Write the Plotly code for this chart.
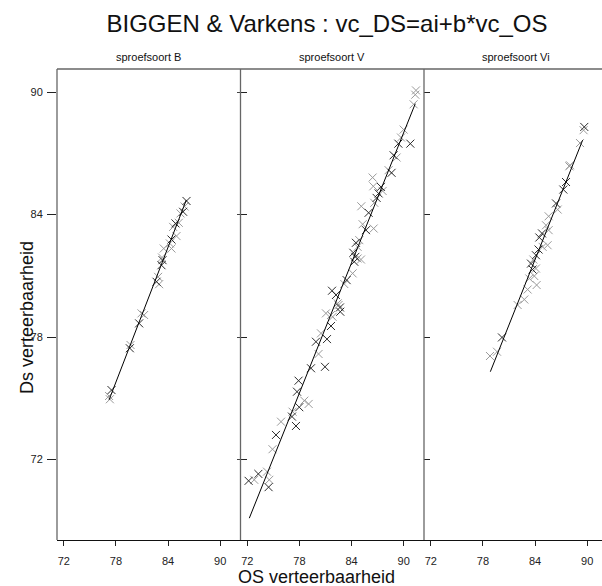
import plotly.graph_objects as go

# ---------------- data ----------------
panel_titles = ["sproefsoort B", "sproefsoort V", "sproefsoort Vi"]
x_ticks = [72, 78, 84, 90]
y_ticks = [72, 78, 84, 90]

# sproefsoort B
b_os = [86.12, 85.9, 85.73, 85.43, 85.23, 84.85, 84.58, 84.97, 84.39, 84.2, 83.5, 84.39, 83.36,
        83.24, 83.3, 82.85, 82.67, 82.97, 80.94, 81.24, 80.67, 79.68, 79.6, 77.49, 77.21, 77.3]
b_ds = [84.67, 84.4, 84.14, 84.06, 83.6, 83.57, 83.4, 82.95, 82.78, 82.59, 82.34, 82.34, 81.77,
        81.52, 81.9, 80.95, 80.71, 80.59, 79.16, 79.08, 78.67, 77.61, 77.45, 75.4, 75.11, 74.95]
b_dier = ["V", "B", "V", "B", "B", "V", "B", "B", "V", "B", "B", "B", "V",
          "V", "B", "B", "V", "B", "B", "B", "V", "B", "V", "V", "B", "B"]

# sproefsoort V
v_os = [91.41, 91.33, 91.14, 90.76, 89.99, 89.69, 89.38, 88.84, 89.18, 88.26, 88.6, 86.42, 86.5,
        87.38, 87.57, 87.11, 86.88, 86.61, 85.12, 85.96, 85.27, 86.54, 85.66, 84.89, 84.5, 84.69,
        84.2, 84.43, 84.69, 85.08, 84.31, 84.12, 83.43, 83.16, 81.75, 82.2, 82.5, 82.66, 81.05,
        81.63, 82.4, 82.7, 81.82, 81.63, 80.48, 81.17, 79.9, 80.2, 80.94, 79.33, 77.9, 77.72,
        78.56, 79.06, 77.98, 77.21, 77.14, 77.6, 75.88, 75.3, 74.9, 74.27, 74.53, 74.45, 73.27,
        72.8, 72.15]
v_ds = [90.09, 89.88, 89.41, 87.48, 88.17, 87.78, 87.48, 86.91, 86.8, 86.18, 86.05, 85.82, 85.39,
        85.36, 85.16, 85.04, 84.82, 84.58, 84.41, 84.09, 83.53, 83.32, 83.24, 82.75, 82.62, 82.42,
        82.13, 81.93, 81.85, 81.8, 81.69, 81.12, 80.79, 80.6, 80.27, 80.06, 79.57, 79.45, 79.16,
        79.08, 79.65, 79.24, 78.99, 78.54, 78.18, 77.9, 77.77, 77.17, 76.54, 76.47, 75.86, 75.32,
        74.88, 74.72, 74.56, 74.34, 74.1, 73.64, 73.85, 73.2, 72.5, 71.4, 71.0, 70.64, 71.29,
        71.0, 70.95]
v_dier = ["B", "B", "B", "V", "B", "B", "V", "V", "B", "B", "V", "B", "B",
          "V", "B", "V", "V", "B", "B", "V", "B", "B", "V", "B", "V", "B",
          "V", "V", "B", "B", "V", "B", "V", "B", "V", "V", "B", "V", "B",
          "B", "B", "V", "B", "V", "B", "V", "V", "B", "V", "V", "V", "V",
          "B", "B", "V", "B", "V", "V", "B", "V", "B", "B", "B", "V", "V",
          "B", "V"]

# sproefsoort Vi
vi_os = [89.66, 89.58, 89.17, 87.94, 88.02, 87.56, 87.25, 86.41, 86.6, 85.56, 85.26, 85.56, 84.8,
         84.49, 85.44, 84.87, 84.4, 84.1, 83.8, 83.53, 84.1, 83.71, 83.34, 83.91, 84.18, 83.14,
         82.76, 81.99, 80.19, 79.62, 78.81]
vi_ds = [88.3, 88.14, 87.51, 86.37, 86.42, 85.6, 85.23, 84.55, 84.25, 83.92, 83.48, 83.24, 83.08,
         82.88, 82.5, 82.42, 82.29, 82.01, 81.8, 81.6, 81.36, 81.31, 80.87, 80.99, 80.55, 80.33,
         79.84, 79.57, 77.98, 77.28, 77.07]
vi_dier = ["V", "B", "B", "B", "B", "V", "V", "V", "B", "B", "B", "B", "V",
           "V", "B", "B", "V", "V", "B", "V", "B", "V", "B", "B", "B", "B",
           "B", "B", "V", "B", "B"]

# fitted lines (vc_DS = ai + b*vc_OS), end points
fit_b_os = [77.21, 86.1]
fit_b_ds = [74.92, 84.72]
fit_v_os = [72.23, 91.33]
fit_v_ds = [69.12, 89.44]
fit_vi_os = [78.85, 89.47]
fit_vi_ds = [76.3, 87.65]

# ---------------- layout geometry ----------------
W, H = 602, 586
L, T, B, R = 57, 69, 46, 0
PW = W - L - R           # plot area width
PX_PER_UNIT = 8.69       # x-scale
panel_w = 183.5
edges_px = [0, panel_w, 2 * panel_w, PW]
dom = [(edges_px[i] / PW, edges_px[i + 1] / PW) for i in range(3)]
x_lo = 72 - 6.8 / PX_PER_UNIT
x_ranges = [[x_lo, x_lo + (edges_px[i + 1] - edges_px[i]) / PX_PER_UNIT] for i in range(3)]
y_range = [68.05, 91.14]

FONT = "Liberation Sans, Arial, sans-serif"
colors = {"B": "#9a9a9a", "V": "#2a2a2a"}

fig = go.Figure()

panels = [(b_os, b_ds, b_dier, fit_b_os, fit_b_ds),
          (v_os, v_ds, v_dier, fit_v_os, fit_v_ds),
          (vi_os, vi_ds, vi_dier, fit_vi_os, fit_vi_ds)]

for i, (xs, ys, grp, fx, fy) in enumerate(panels):
    xa = "x" if i == 0 else f"x{i+1}"
    ya = "y" if i == 0 else f"y{i+1}"
    for g in ["B", "V"]:
        px = [x for x, gg in zip(xs, grp) if gg == g]
        py = [y for y, gg in zip(ys, grp) if gg == g]
        fig.add_trace(go.Scatter(
            x=px, y=py, mode="markers", xaxis=xa, yaxis=ya, showlegend=False,
            marker=dict(symbol="x-thin", size=8, line=dict(width=1, color=colors[g])),
        ))
    fig.add_trace(go.Scatter(x=fx, y=fy, mode="lines", xaxis=xa, yaxis=ya,
                             showlegend=False, line=dict(color="black", width=1)))

# invisible trace for the inner-right ticks of panel 1
fig.add_trace(go.Scatter(x=[None], y=[None], xaxis="x", yaxis="y4", showlegend=False))

layout = dict(
    width=W, height=H,
    margin=dict(l=L, r=R, t=T, b=B, pad=0),
    paper_bgcolor="white", plot_bgcolor="white",
    font=dict(family=FONT, color="#111", size=11),
    title=dict(text="BIGGEN & Varkens : vc_DS=ai+b*vc_OS", x=327 / W, xanchor="center",
               y=1 - 24 / H, yanchor="middle", font=dict(size=24, family=FONT, color="#111")),
)

for i in range(3):
    xk = "xaxis" if i == 0 else f"xaxis{i+1}"
    yk = "yaxis" if i == 0 else f"yaxis{i+1}"
    layout[xk] = dict(domain=list(dom[i]), range=x_ranges[i], anchor="y" if i == 0 else f"y{i+1}",
                      tickvals=x_ticks, ticks="outside", ticklen=5, tickcolor="#222",
                      showline=True, linecolor="#111", linewidth=1.3, showgrid=False,
                      zeroline=False, tickfont=dict(size=11, family=FONT, color="#222"),
                      ticklabelstandoff=6, fixedrange=True)
    ydict = dict(domain=[0, 1], range=y_range, anchor="x" if i == 0 else f"x{i+1}",
                 tickvals=y_ticks, showgrid=False, zeroline=False, showline=False,
                 tickcolor="#222", fixedrange=True)
    if i == 0:
        ydict.update(ticks="outside", ticklen=9, tickfont=dict(size=11, family=FONT, color="#222"),
                     ticklabelstandoff=2)
    else:
        ydict.update(ticks="inside", ticklen=6, showticklabels=False)
    layout[yk] = ydict

layout["yaxis4"] = dict(overlaying="y", side="right", anchor="x", range=y_range, tickvals=y_ticks,
                        ticks="inside", ticklen=4, showticklabels=False, showgrid=False,
                        zeroline=False, showline=False, tickcolor="#444", fixedrange=True)

fig.update_layout(**layout)

# frame lines (panel borders) in paper coordinates
frame_col = "#666"
shapes = [dict(type="line", xref="paper", yref="paper", x0=0, x1=1, y0=1, y1=1,
               line=dict(color=frame_col, width=1.3))]
for e in edges_px[:3]:
    xp = e / PW
    shapes.append(dict(type="line", xref="paper", yref="paper", x0=xp, x1=xp, y0=0, y1=1,
                       line=dict(color=frame_col, width=1.3)))
fig.update_layout(shapes=shapes)

# strip labels and axis titles (positions given in pixels, converted to paper coords)
ph = H - T - B
for i, t in enumerate(panel_titles):
    cx = (edges_px[i] + panel_w / 2) / PW
    fig.add_annotation(text=t, x=cx, y=1 + 12 / ph, xref="paper", yref="paper",
                       xanchor="center", yanchor="middle", showarrow=False,
                       font=dict(size=11, family=FONT, color="#111"))
fig.add_annotation(text="OS verteerbaarheid", x=(316 - L) / PW, y=(H - 577 - B) / ph,
                   xref="paper", yref="paper", showarrow=False, xanchor="center",
                   yanchor="middle", font=dict(size=18, family=FONT, color="#111"))
fig.add_annotation(text="Ds verteerbaarheid", x=(27 - L) / PW, y=(H - 318 - B) / ph,
                   xref="paper", yref="paper", textangle=-90, showarrow=False,
                   xanchor="center", yanchor="middle", font=dict(size=18, family=FONT, color="#111"))

fig.write_html("out.html", config={"displayModeBar": False},
               post_script="document.body.style.margin='0px';document.body.style.overflow='hidden';")
